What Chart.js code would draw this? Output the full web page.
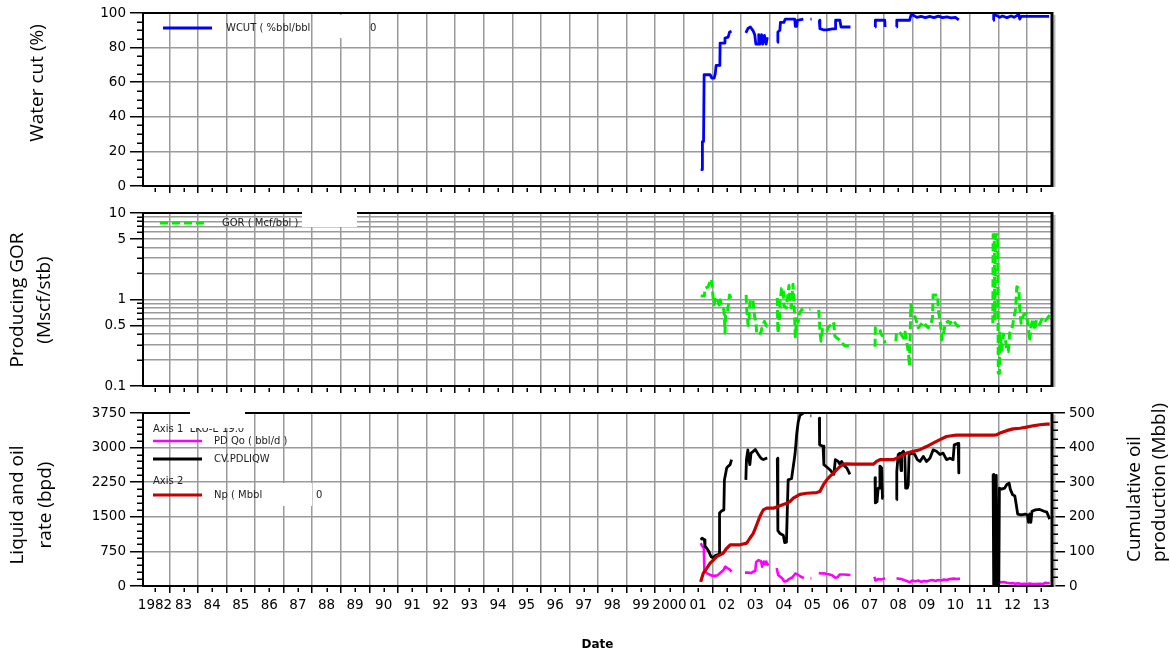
<!DOCTYPE html>
<html>
<head>
<meta charset="utf-8">
<script src="https://cdn.jsdelivr.net/npm/chart.js@4.4.1/dist/chart.umd.min.js"></script>
<style>
  html, body { margin: 0; padding: 0; background: #fff; }
  #wrap { position: relative; width: 1170px; height: 653px; overflow: hidden; background: #fff; }
  #wrap canvas { position: absolute; left: 0; }
</style>
</head>
<body>
<div id="wrap">
  <canvas id="cWcut" width="1170" height="200" style="top:0"></canvas>
  <canvas id="cGor" width="1170" height="200" style="top:200px"></canvas>
  <canvas id="cRate" width="1170" height="253" style="top:400px"></canvas>
</div>
<script>
// ---------- time axis (decimal years) ----------
const firstYear = 1982;
const yearLabels = ['1982','83','84','85','86','87','88','89','90','91','92','93','94','95','96','97','98',
                    '99','2000','01','02','03','04','05','06','07','08','09','10','11','12','13'];
const xMin = 1982.08, xMax = 2013.88;

// ---------- value axes ----------
const wcutTicks = [0, 20, 40, 60, 80, 100];
const gorTicks = [0.1, 0.5, 1, 5, 10];
const rateTicks = [0, 750, 1500, 2250, 3000, 3750];
const npTicks = [0, 100, 200, 300, 400, 500];

// ---------- series: [decimal year, value]; a null value breaks the line ----------
const wcut = [
  [2001.59, 9.5], [2001.64, 9.5], [2001.65, 25.7], [2001.69, 25.7], [2001.71, 64.3], [2001.92, 64.3],
  [2001.98, 62.4], [2002.06, 62.4], [2002.1, 65], [2002.13, 69.7], [2002.26, 69.7], [2002.27, 82.6],
  [2002.42, 82.6], [2002.44, 85.5], [2002.55, 86], [2002.6, 89], [2002.67, 89.5],
  [2002.9, null],
  [2003.17, 88.5], [2003.24, 91], [2003.33, 91.9], [2003.43, 89.5], [2003.48, 87.5], [2003.52, 82],
  [2003.6, 82], [2003.62, 87.5], [2003.66, 82], [2003.72, 87.5], [2003.76, 82], [2003.82, 87],
  [2003.88, 82], [2003.92, 86],
  [2004.1, null],
  [2004.27, 83], [2004.29, 89], [2004.36, 90], [2004.38, 94.6], [2004.5, 94.6], [2004.55, 96.5],
  [2004.88, 96.5], [2004.9, 92.3], [2004.95, 92.3], [2004.97, 95.8], [2005.18, 96.5],
  [2005.3, null],
  [2005.43, 96.5], [2005.47, 96.5],
  [2005.6, null],
  [2005.74, 95.8], [2005.76, 91], [2005.88, 90.3], [2006.0, 90.3], [2006.2, 90.8], [2006.29, 90.8],
  [2006.31, 95.8], [2006.46, 95.8], [2006.5, 91.9], [2006.83, 91.9],
  [2007.3, null],
  [2007.69, 91.9], [2007.7, 95.8], [2008.03, 95.8], [2008.04, 91.9],
  [2008.2, null],
  [2008.44, 91.9], [2008.45, 95.8], [2008.9, 95.8], [2008.95, 99], [2009.05, 98.5], [2009.15, 97.5],
  [2009.3, 98], [2009.45, 97.3], [2009.6, 98], [2009.75, 97.3], [2009.9, 98.2], [2010.05, 97.3],
  [2010.2, 97.8], [2010.35, 97.2], [2010.5, 97.5], [2010.62, 96],
  [2011.2, null],
  [2011.82, 95.8], [2011.84, 99], [2011.95, 98.5], [2012.05, 97.5], [2012.15, 98.3], [2012.3, 97.3],
  [2012.45, 98.3], [2012.55, 97.5], [2012.65, 98.5], [2012.72, 99], [2012.75, 96.5], [2012.8, 98],
  [2013.0, 98], [2013.3, 98], [2013.78, 98]
];

const gor = [
  [2001.59, 1.1], [2001.72, 1.1], [2001.74, 1.35], [2001.85, 1.4], [2001.92, 1.62], [2001.97, 1.72],
  [2002.0, 1.29], [2002.03, 1.0], [2002.06, 0.87], [2002.1, 1.08], [2002.15, 0.99], [2002.2, 0.95],
  [2002.25, 0.83], [2002.28, 0.99], [2002.33, 0.79], [2002.4, 0.77], [2002.42, 0.63], [2002.44, 0.41],
  [2002.46, 0.66], [2002.52, 0.69], [2002.6, 1.13], [2002.67, 0.99],
  [2002.9, null],
  [2003.18, 1.13], [2003.2, 0.76], [2003.25, 0.5], [2003.28, 0.6], [2003.32, 0.99], [2003.42, 0.99],
  [2003.45, 0.76], [2003.48, 0.63], [2003.52, 0.56], [2003.55, 0.41], [2003.62, 0.39], [2003.7, 0.42],
  [2003.75, 0.5], [2003.82, 0.56], [2003.9, 0.49], [2003.92, 0.51],
  [2004.1, null],
  [2004.27, 1.04], [2004.29, 0.41], [2004.34, 0.55], [2004.37, 0.95], [2004.42, 1.35], [2004.48, 1.35],
  [2004.5, 0.85], [2004.58, 0.8], [2004.62, 1.0], [2004.68, 1.45], [2004.72, 1.0], [2004.76, 0.8],
  [2004.82, 1.5], [2004.88, 0.6], [2004.9, 0.37], [2004.95, 0.6], [2005.0, 0.55], [2005.05, 0.7],
  [2005.12, 0.76], [2005.2, 0.77],
  [2005.3, null],
  [2005.39, 0.77], [2005.43, 0.77],
  [2005.6, null],
  [2005.72, 0.76], [2005.74, 0.6], [2005.77, 0.4], [2005.8, 0.33], [2005.85, 0.45], [2005.92, 0.43],
  [2006.0, 0.43], [2006.05, 0.48], [2006.15, 0.51], [2006.22, 0.55], [2006.25, 0.52], [2006.28, 0.38],
  [2006.35, 0.36], [2006.45, 0.34], [2006.55, 0.31], [2006.65, 0.29], [2006.85, 0.29],
  [2007.3, null],
  [2007.69, 0.285], [2007.7, 0.47], [2007.85, 0.46], [2007.9, 0.4], [2008.0, 0.36], [2008.04, 0.31],
  [2008.2, null],
  [2008.42, 0.33], [2008.44, 0.42], [2008.52, 0.42], [2008.6, 0.4], [2008.68, 0.36], [2008.74, 0.42],
  [2008.8, 0.32], [2008.86, 0.24], [2008.89, 0.17], [2008.92, 0.4], [2008.94, 0.87], [2009.0, 0.69],
  [2009.1, 0.62], [2009.2, 0.47], [2009.3, 0.52], [2009.38, 0.47], [2009.46, 0.51], [2009.55, 0.47],
  [2009.65, 0.53], [2009.7, 0.62], [2009.72, 1.13], [2009.88, 1.13], [2009.9, 0.76], [2009.95, 0.6],
  [2010.0, 0.45], [2010.03, 0.34], [2010.08, 0.4], [2010.15, 0.53], [2010.25, 0.56], [2010.32, 0.53],
  [2010.4, 0.58], [2010.5, 0.53], [2010.58, 0.49], [2010.66, 0.5],
  [2011.2, null],
  [2011.81, 0.53], [2011.82, 5.6], [2011.86, 5.6], [2011.88, 0.6], [2011.9, 5.6], [2011.98, 5.6],
  [2012.0, 0.14], [2012.04, 0.14], [2012.06, 0.41], [2012.12, 0.26], [2012.18, 0.4], [2012.25, 0.34],
  [2012.3, 0.26], [2012.35, 0.25], [2012.4, 0.41], [2012.5, 0.49], [2012.55, 0.63], [2012.6, 0.75],
  [2012.65, 1.4], [2012.72, 1.35], [2012.75, 0.8], [2012.8, 0.53], [2012.88, 0.66], [2012.98, 0.69],
  [2013.05, 0.49], [2013.1, 0.33], [2013.15, 0.5], [2013.22, 0.6], [2013.28, 0.44], [2013.33, 0.58],
  [2013.45, 0.52], [2013.55, 0.62], [2013.65, 0.57], [2013.8, 0.66]
];

const oilRate = [
  [2001.59, 930], [2001.65, 860], [2001.7, 820], [2001.72, 320], [2001.8, 280], [2001.95, 230],
  [2002.05, 220], [2002.18, 230], [2002.27, 280], [2002.38, 340], [2002.45, 420], [2002.52, 390],
  [2002.6, 360], [2002.67, 310],
  [2002.9, null],
  [2003.14, 290], [2003.25, 290], [2003.35, 280], [2003.43, 310], [2003.5, 330], [2003.53, 520],
  [2003.62, 560], [2003.7, 540], [2003.74, 420], [2003.8, 530], [2003.85, 470], [2003.88, 530],
  [2003.96, 440],
  [2004.1, null],
  [2004.25, 390], [2004.3, 240], [2004.38, 200], [2004.45, 160], [2004.52, 100], [2004.6, 110],
  [2004.68, 150], [2004.8, 190], [2004.9, 270], [2004.98, 250], [2005.1, 200], [2005.2, 170],
  [2005.3, null],
  [2005.43, 170], [2005.46, 170],
  [2005.6, null],
  [2005.72, 280], [2005.8, 270], [2005.9, 275], [2006.0, 260], [2006.1, 250], [2006.2, 230],
  [2006.3, 180], [2006.38, 190], [2006.45, 250], [2006.6, 250], [2006.83, 240],
  [2007.3, null],
  [2007.67, 200], [2007.7, 120], [2007.8, 150], [2007.9, 140], [2008.0, 160], [2008.04, 170],
  [2008.2, null],
  [2008.44, 170], [2008.5, 160], [2008.6, 150], [2008.7, 130], [2008.8, 110], [2008.9, 80],
  [2009.0, 120], [2009.1, 100], [2009.2, 120], [2009.3, 90], [2009.4, 110], [2009.5, 100],
  [2009.6, 120], [2009.7, 130], [2009.8, 110], [2009.9, 130], [2010.0, 120], [2010.1, 140],
  [2010.2, 130], [2010.3, 150], [2010.45, 160], [2010.55, 150], [2010.66, 160],
  [2011.2, null],
  [2011.82, 60], [2011.9, 80], [2012.0, 90], [2012.1, 80], [2012.2, 85], [2012.3, 70], [2012.4, 60],
  [2012.5, 65], [2012.6, 50], [2012.7, 60], [2012.8, 45], [2012.9, 50], [2013.0, 40], [2013.1, 55],
  [2013.2, 45], [2013.3, 40], [2013.45, 50], [2013.55, 40], [2013.65, 70], [2013.72, 60], [2013.8, 70]
];

const liquidRate = [
  [2001.59, 1000], [2001.64, 1035], [2001.72, 1000], [2001.74, 860], [2001.8, 820], [2001.88, 740],
  [2001.95, 640], [2002.02, 610], [2002.1, 660], [2002.2, 680], [2002.24, 700], [2002.25, 1580],
  [2002.33, 1630], [2002.4, 1650], [2002.42, 2300], [2002.5, 2560], [2002.56, 2600], [2002.62, 2630],
  [2002.67, 2740],
  [2002.9, null],
  [2003.17, 2300], [2003.19, 2740], [2003.24, 2950], [2003.27, 2770], [2003.31, 2630], [2003.35, 2880],
  [2003.43, 2920], [2003.5, 2960], [2003.58, 2880], [2003.62, 2840], [2003.7, 2770], [2003.78, 2740],
  [2003.85, 2760], [2003.92, 2770],
  [2004.1, null],
  [2004.27, 2770], [2004.29, 1200], [2004.36, 1140], [2004.48, 1100], [2004.53, 940], [2004.59, 950],
  [2004.62, 1650], [2004.65, 2300], [2004.77, 2330], [2004.89, 2860], [2004.95, 3300], [2005.0, 3550],
  [2005.06, 3700], [2005.18, 3750],
  [2005.3, null],
  [2005.43, 3690], [2005.46, 3690],
  [2005.6, null],
  [2005.74, 3640], [2005.75, 3060], [2005.87, 3030], [2005.9, 2630], [2006.0, 2580], [2006.11, 2520],
  [2006.2, 2450], [2006.25, 2420], [2006.3, 2740], [2006.4, 2700], [2006.46, 2640], [2006.52, 2700],
  [2006.6, 2620], [2006.7, 2560], [2006.81, 2420],
  [2007.3, null],
  [2007.69, 2350], [2007.7, 1800], [2007.76, 1830], [2007.8, 2120], [2007.84, 2120], [2007.86, 2600],
  [2007.92, 2560], [2007.95, 1900], [2007.98, 1900],
  [2008.2, null],
  [2008.44, 1870], [2008.45, 2480], [2008.5, 2850], [2008.56, 2880], [2008.6, 2500], [2008.62, 2880],
  [2008.68, 2920], [2008.73, 2850], [2008.76, 2120], [2008.82, 2120], [2008.85, 2190], [2008.88, 2850],
  [2009.0, 2880], [2009.08, 2850], [2009.17, 2740], [2009.26, 2700], [2009.38, 2810], [2009.49, 2700],
  [2009.61, 2770], [2009.72, 2950], [2009.84, 2920], [2009.96, 2850], [2010.07, 2880], [2010.19, 2740],
  [2010.31, 2770], [2010.42, 2740], [2010.46, 3060], [2010.6, 3090], [2010.62, 2450],
  [2011.2, null],
  [2011.82, 2420], [2011.84, 30], [2011.9, 30], [2011.93, 2400], [2011.96, 30], [2012.02, 30],
  [2012.04, 2120], [2012.12, 2100], [2012.22, 2120], [2012.3, 2200], [2012.38, 2230], [2012.42, 2100],
  [2012.5, 1980], [2012.58, 1950], [2012.62, 1800], [2012.68, 1560], [2012.8, 1540], [2012.95, 1560],
  [2013.02, 1540], [2013.06, 1380], [2013.1, 1560], [2013.14, 1380], [2013.18, 1620], [2013.3, 1650],
  [2013.45, 1660], [2013.6, 1620], [2013.7, 1600], [2013.8, 1450]
];

const cumOil = [
  [2001.59, 12], [2001.68, 37], [2001.8, 51], [2001.92, 66], [2002.03, 75], [2002.15, 85],
  [2002.27, 90], [2002.38, 95], [2002.5, 109], [2002.62, 119], [2002.73, 119], [2002.97, 119],
  [2003.2, 124], [2003.31, 138], [2003.43, 152], [2003.55, 177], [2003.66, 201], [2003.78, 220],
  [2003.9, 225], [2004.13, 225], [2004.36, 232], [2004.6, 239], [2004.71, 244], [2004.83, 254],
  [2004.95, 260], [2005.06, 265], [2005.3, 268], [2005.65, 270], [2005.76, 273], [2005.88, 292],
  [2006.0, 307], [2006.11, 317], [2006.23, 326], [2006.35, 336], [2006.46, 345], [2006.58, 352],
  [2006.7, 353], [2006.93, 352], [2007.63, 352], [2007.74, 360], [2007.86, 365], [2008.33, 365],
  [2008.56, 374], [2008.79, 384], [2009.03, 389], [2009.26, 394], [2009.49, 403], [2009.72, 413],
  [2009.96, 423], [2010.19, 432], [2010.42, 435], [2010.54, 436], [2011.36, 436], [2011.82, 436],
  [2011.94, 437], [2012.06, 442], [2012.29, 449], [2012.52, 454], [2012.76, 456], [2012.99, 459],
  [2013.22, 463], [2013.45, 466], [2013.69, 468], [2013.8, 468]
];

// ---------- shared look ----------
const gridGray = '#9a9a9a';
const tickFont = { family: '"DejaVu Sans", sans-serif', size: 13.5 };
const keyFont = '10px "DejaVu Sans", sans-serif';
const titleFont = '19px "Open Sans", sans-serif';

const toXY = arr => arr.map(([x, y]) => ({ x, y }));
const isYear = v => Math.abs(v - Math.round(v)) < 1e-6;

function timeAxis(showLabels, height) {
  return {
    type: 'linear', position: 'bottom', min: xMin, max: xMax,
    afterBuildTicks: s => {
      const t = [];
      yearLabels.forEach((lab, i) => {
        const y0 = firstYear + i;
        if (y0 >= xMin) t.push({ value: y0 });
        t.push({ value: y0 + 0.5 });
      });
      s.ticks = t;
    },
    afterFit: s => { s.height = height; },
    border: { display: false },
    grid: {
      color: c => (c.tick && isYear(c.tick.value)) ? gridGray : 'rgba(0,0,0,0)',
      tickColor: c => (c.tick && isYear(c.tick.value)) ? '#000' : 'rgba(0,0,0,0)',
      lineWidth: 1.5, tickWidth: 1.5, tickLength: 7
    },
    ticks: {
      display: showLabels, autoSkip: false, maxRotation: 0, minRotation: 0, padding: 4,
      color: '#000', font: tickFont,
      callback: v => isYear(v) ? '' : yearLabels[Math.floor(v) - firstYear]
    },
    title: showLabels ? {
      display: true, text: 'Date', color: '#000',
      font: { family: '"DejaVu Sans", sans-serif', size: 12, weight: 'bold' },
      padding: { top: 0, bottom: 1 }
    } : { display: false }
  };
}

function valueAxis(opts) {
  const labelled = opts.labels;
  const has = v => labelled.some(l => Math.abs(l - v) < 1e-9);
  return {
    type: opts.type || 'linear', position: opts.position || 'left',
    min: opts.min, max: opts.max,
    afterBuildTicks: s => { s.ticks = opts.gridValues.map(v => ({ value: v })); },
    afterFit: s => { s.width = opts.width; },
    border: { display: false },
    grid: {
      drawOnChartArea: opts.drawGrid !== false,
      color: gridGray, lineWidth: 1.5, tickLength: 13, tickWidth: 1.5,
      tickColor: c => (c.tick && has(c.tick.value)) ? '#000' : 'rgba(0,0,0,0)'
    },
    ticks: {
      autoSkip: false, padding: 4, color: '#000', font: tickFont,
      callback: v => has(v) ? String(v) : ''
    }
  };
}

// short tick marks between the labelled ones
const minorTicks = {
  id: 'minorTicks',
  afterDraw(chart, args, opts) {
    const ctx = chart.ctx;
    ctx.save();
    ctx.strokeStyle = '#000';
    ctx.lineWidth = 1.5;
    (opts.list || []).forEach(m => {
      const s = chart.scales[m.scale];
      m.values.forEach(v => {
        const p = Math.round(s.getPixelForValue(v)) + 0.25;
        ctx.beginPath();
        if (m.side === 'left') { ctx.moveTo(s.right - m.len, p); ctx.lineTo(s.right, p); }
        else if (m.side === 'right') { ctx.moveTo(s.left, p); ctx.lineTo(s.left + m.len, p); }
        else { ctx.moveTo(p, s.top + m.gap); ctx.lineTo(p, s.top + m.gap + m.len); }
        ctx.stroke();
      });
    });
    ctx.restore();
  }
};

// black frame round the plotting area, heavier on the right with a soft shadow
const plotFrame = {
  id: 'plotFrame',
  afterDatasetsDraw(chart) {
    const { ctx, chartArea: a } = chart;
    ctx.save();
    ctx.strokeStyle = '#000';
    ctx.lineWidth = 2;
    ctx.beginPath();
    ctx.moveTo(a.right, a.top); ctx.lineTo(a.left, a.top); ctx.lineTo(a.left, a.bottom); ctx.lineTo(a.right, a.bottom);
    ctx.stroke();
    ctx.strokeStyle = '#b8b8b8';
    ctx.lineWidth = 2;
    ctx.beginPath(); ctx.moveTo(a.right + 2.5, a.top + 2); ctx.lineTo(a.right + 2.5, a.bottom + 1); ctx.stroke();
    ctx.strokeStyle = '#000';
    ctx.lineWidth = 3;
    ctx.beginPath(); ctx.moveTo(a.right, a.top - 1); ctx.lineTo(a.right, a.bottom + 1); ctx.stroke();
    ctx.restore();
  }
};

// in-plot key: sample lines with their labels, then blank patches over part of it
const plotKey = {
  id: 'plotKey',
  afterDraw(chart, args, opts) {
    const { ctx, chartArea: a } = chart;
    ctx.save();
    ctx.font = keyFont;
    ctx.fillStyle = '#222';
    ctx.textBaseline = 'middle';
    (opts.rows || []).forEach(r => {
      const y = a.top + r.dy;
      if (r.dataset !== undefined) {
        const ds = chart.data.datasets[r.dataset];
        ctx.save();
        ctx.strokeStyle = ds.borderColor;
        ctx.lineWidth = ds.borderWidth;
        ctx.setLineDash(ds.borderDash || []);
        ctx.beginPath(); ctx.moveTo(a.left + r.x0, y); ctx.lineTo(a.left + r.x1, y); ctx.stroke();
        ctx.restore();
      }
      ctx.fillText(r.text, a.left + r.tx, y);
      if (r.tail) ctx.fillText(r.tail[0], r.tail[1], y);
    });
    ctx.fillStyle = '#fff';
    (opts.blanks || []).forEach(b => ctx.fillRect(b[0], b[1], b[2], b[3]));
    ctx.restore();
  }
};

// rotated axis titles (read bottom to top)
const sideTitles = {
  id: 'sideTitles',
  afterDraw(chart, args, opts) {
    const ctx = chart.ctx;
    (opts.items || []).forEach(t => {
      ctx.save();
      ctx.translate(t.x, t.y);
      ctx.rotate(-Math.PI / 2);
      ctx.font = titleFont;
      ctx.fillStyle = '#000';
      ctx.textAlign = t.align || 'center';
      ctx.textBaseline = 'middle';
      ctx.fillText(t.text, 0, 0);
      ctx.restore();
    });
  }
};

Chart.register(minorTicks, plotFrame, plotKey, sideTitles);

const halfYears = yearLabels.map((l, i) => firstYear + i + 0.5);
const range = (a, b, step) => { const r = []; for (let v = a; v <= b + 1e-9; v += step) r.push(+v.toFixed(6)); return r; };
const logGrid = [];
[0.1, 1].forEach(d => { for (let k = 1; k <= 9; k++) logGrid.push(+(k * d).toFixed(6)); });
logGrid.push(10);

const common = {
  responsive: false, animation: false, events: [],
  elements: { point: { radius: 0 }, line: { tension: 0, borderCapStyle: 'butt', borderJoinStyle: 'round' } },
  plugins: { legend: { display: false }, tooltip: { enabled: false } }
};

// ---------- water cut ----------
new Chart(document.getElementById('cWcut'), {
  type: 'line',
  data: { datasets: [{
    label: 'WCUT ( %bbl/bbl )', data: toXY(wcut),
    borderColor: '#0000ff', borderWidth: 2.8, spanGaps: false
  }] },
  options: {
    ...common,
    layout: { padding: { top: 13, right: 118, left: 0, bottom: 0 } },
    scales: {
      x: timeAxis(false, 14),
      y: valueAxis({ min: 0, max: 100, labels: wcutTicks, gridValues: wcutTicks, width: 143 })
    },
    plugins: {
      ...common.plugins,
      minorTicks: { list: [
        { scale: 'y', side: 'left', len: 6, values: range(0, 100, 5).filter(v => v % 20) },
        { scale: 'x', side: 'bottom', gap: 2, len: 4, values: halfYears }
      ] },
      plotKey: {
        rows: [{ dataset: 0, dy: 15, x0: 20, x1: 69, tx: 83, text: 'WCUT ( %bbl/bbl', tail: ['0', 370] }],
        blanks: [[313, 15, 55, 23]]
      },
      sideTitles: { items: [{ text: 'Water cut (%)', x: 38, y: 83 }] }
    }
  }
});

// ---------- producing GOR (log) ----------
new Chart(document.getElementById('cGor'), {
  type: 'line',
  data: { datasets: [{
    label: 'GOR ( Mcf/bbl )', data: toXY(gor),
    borderColor: '#00ee00', borderWidth: 3, borderDash: [8, 4], spanGaps: false
  }] },
  options: {
    ...common,
    layout: { padding: { top: 13, right: 118, left: 0, bottom: 0 } },
    scales: {
      x: timeAxis(false, 14),
      y: valueAxis({ type: 'logarithmic', min: 0.1, max: 10, labels: gorTicks, gridValues: logGrid, width: 143 })
    },
    plugins: {
      ...common.plugins,
      minorTicks: { list: [
        { scale: 'y', side: 'left', len: 6, values: logGrid.filter(v => !gorTicks.includes(v)) },
        { scale: 'x', side: 'bottom', gap: 2, len: 4, values: halfYears }
      ] },
      plotKey: {
        rows: [{ dataset: 0, dy: 10, x0: 17, x1: 65, tx: 79, text: 'GOR ( Mcf/bbl ) L' }],
        blanks: [[302, 0, 55, 27]]
      },
      sideTitles: { items: [
        { text: 'Producing GOR', x: 18, y: 100 },
        { text: '(Mscf/stb)', x: 45, y: 100 }
      ] }
    }
  }
});

// ---------- liquid / oil rate and cumulative oil ----------
new Chart(document.getElementById('cRate'), {
  type: 'line',
  data: { datasets: [
    { label: 'PD Qo ( bbl/d )', data: toXY(oilRate), yAxisID: 'y', borderColor: '#ff00ff', borderWidth: 2.6, order: 2 },
    { label: 'CV.PDLIQW', data: toXY(liquidRate), yAxisID: 'y', borderColor: '#000000', borderWidth: 2.8, order: 1 },
    { label: 'Np ( Mbbl )', data: toXY(cumOil), yAxisID: 'y2', borderColor: '#c40000', borderWidth: 3.2, order: 0 }
  ] },
  options: {
    ...common,
    layout: { padding: { top: 13, right: 0, left: 0, bottom: 0 } },
    scales: {
      x: timeAxis(true, 67),
      y: valueAxis({ min: 0, max: 3750, labels: rateTicks, gridValues: rateTicks, width: 143 }),
      y2: valueAxis({ position: 'right', min: 0, max: 500, labels: npTicks, gridValues: npTicks, width: 118, drawGrid: false })
    },
    plugins: {
      ...common.plugins,
      minorTicks: { list: [
        { scale: 'y', side: 'left', len: 6, values: range(0, 3750, 150).filter(v => v % 750) },
        { scale: 'y2', side: 'right', len: 6, values: range(0, 500, 25).filter(v => v % 100) },
        { scale: 'x', side: 'bottom', gap: 2, len: 4, values: halfYears }
      ] },
      plotKey: {
        rows: [
          { text: 'Axis 1  LKU-E 19.0', dy: 16, tx: 10 },
          { dataset: 0, dy: 28, x0: 10, x1: 59, tx: 71, text: 'PD Qo ( bbl/d )' },
          { dataset: 1, dy: 46, x0: 10, x1: 59, tx: 71, text: 'CV.PDLIQW' },
          { text: 'Axis 2', dy: 68, tx: 10 },
          { dataset: 2, dy: 82, x0: 10, x1: 59, tx: 71, text: 'Np ( Mbbl', tail: ['0', 316] }
        ],
        blanks: [[190, 0, 55, 28], [265, 83, 47, 23]]
      },
      sideTitles: { items: [
        { text: 'Liquid and oil', x: 18, y: 105 },
        { text: 'rate (bpd)', x: 46, y: 105 },
        { text: 'Cumulative oil', x: 1135, y: 162, align: 'left' },
        { text: 'production (Mbbl)', x: 1160, y: 162, align: 'left' }
      ] }
    }
  }
});
</script>
</body>
</html>
